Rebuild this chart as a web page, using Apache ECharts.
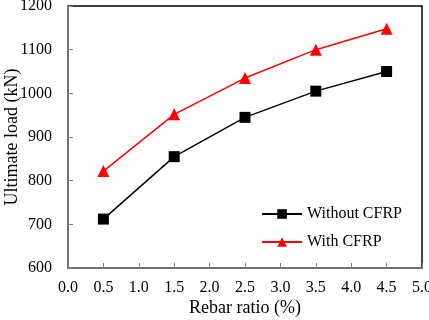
<!DOCTYPE html>
<html>
<head>
<meta charset="utf-8">
<script src="https://cdn.jsdelivr.net/npm/echarts@6/dist/echarts.min.js"></script>
<style>
  html, body { margin: 0; padding: 0; background: #fff; }
  #chart { width: 429px; height: 320px; }
</style>
</head>
<body>
<div id="chart"></div>
<script>
// rebar ratio (%) and ultimate load (kN)
const rebarRatio = [0.5, 1.5, 2.5, 3.5, 4.5];
const withoutCFRP = [712, 855, 945, 1005, 1050];
const withCFRP = [822, 952, 1035, 1100, 1148];

const chart = echarts.init(document.getElementById('chart'));
const font = 'Liberation Serif';

const pairs = (ys) => rebarRatio.map((x, i) => [x, ys[i]]);

chart.setOption({
  animation: false,
  textStyle: { fontFamily: font, color: '#000' },
  grid: {
    left: 68, right: 7, top: 6, bottom: 52,
    outerBoundsMode: 'none',
    containLabel: false,
    show: true,
    borderColor: '#000',
    borderWidth: 1.5
  },
  legend: {
    orient: 'vertical',
    right: 22,
    top: 201,
    itemWidth: 40,
    itemHeight: 12,
    itemGap: 12,
    textStyle: { fontFamily: font, fontSize: 16, color: '#000' },
    data: ['Without CFRP', 'With CFRP']
  },
  xAxis: {
    type: 'value',
    min: 0, max: 5, interval: 0.5,
    name: 'Rebar ratio (%)',
    nameLocation: 'middle',
    nameGap: 31,
    nameMoveOverlap: false,
    nameTextStyle: { fontFamily: font, fontSize: 18, color: '#000' },
    axisLine: { show: true, lineStyle: { color: '#808080', width: 1.5 } },
    axisTick: { show: true, inside: true, length: 5, lineStyle: { color: '#808080' } },
    axisLabel: {
      fontFamily: font, fontSize: 16, color: '#000', margin: 12,
      formatter: (v) => v.toFixed(1)
    },
    splitLine: { show: false }
  },
  yAxis: {
    type: 'value',
    min: 600, max: 1200, interval: 100,
    name: 'Ultimate load (kN)',
    nameLocation: 'middle',
    nameGap: 47,
    nameMoveOverlap: false,
    nameTextStyle: { fontFamily: font, fontSize: 18, color: '#000' },
    axisLine: { show: true, lineStyle: { color: '#808080', width: 1.5 } },
    axisTick: { show: true, inside: true, length: 5, lineStyle: { color: '#808080' } },
    axisLabel: {
      fontFamily: font, fontSize: 16, color: '#000', margin: 16,
      formatter: (v) => String(v)
    },
    splitLine: { show: false }
  },
  series: [
    {
      name: 'Without CFRP',
      type: 'line',
      data: pairs(withoutCFRP),
      symbol: 'rect',
      symbolSize: 11,
      lineStyle: { color: '#000', width: 1.5 },
      itemStyle: { color: '#000' }
    },
    {
      name: 'With CFRP',
      type: 'line',
      data: pairs(withCFRP),
      symbol: 'triangle',
      symbolSize: 12,
      lineStyle: { color: '#ff0000', width: 1.5 },
      itemStyle: { color: '#ff0000' }
    }
  ]
});
</script>
</body>
</html>
